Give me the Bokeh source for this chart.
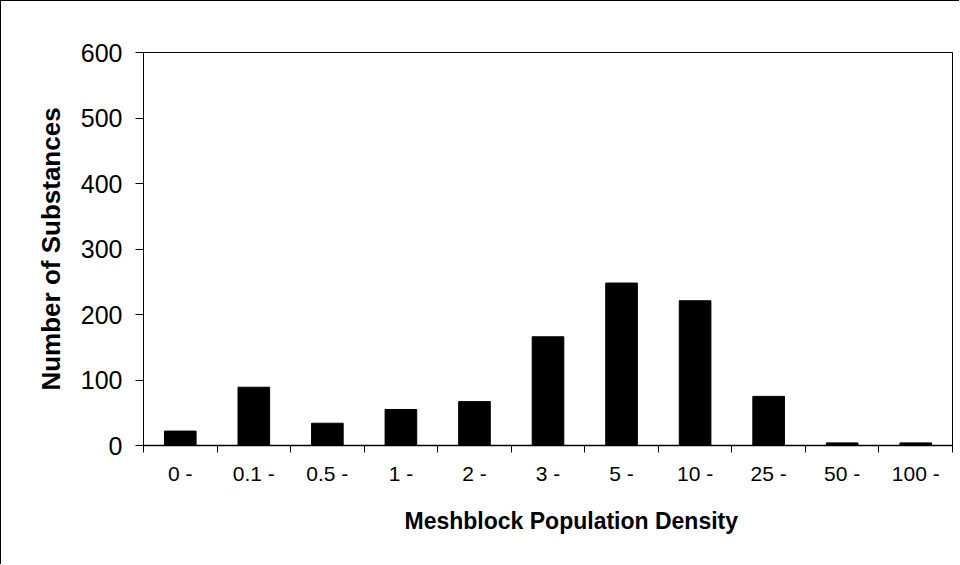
from bokeh.plotting import figure
from bokeh.models import FixedTicker, Range1d, Title
from bokeh.embed import file_html
from bokeh.resources import INLINE

categories = ["0 -", "0.1 -", "0.5 -", "1 -", "2 -", "3 -", "5 -", "10 -", "25 -", "50 -", "100 -"]
counts = [22, 89, 34, 55, 67, 166, 248, 221, 75, 4, 4]
y_ticks = [0, 100, 200, 300, 400, 500, 600]

x_pos = [i + 0.5 for i in range(len(categories))]
boundaries = list(range(len(categories) + 1))

FONT = "Liberation Sans"

p = figure(width=959, height=564, output_backend="svg", toolbar_location=None,
           x_range=Range1d(0, len(categories)), y_range=Range1d(0, 600),
           min_border_left=142, min_border_top=51, min_border_right=8, min_border_bottom=120)
p.styles = {"border-left": "1px solid black", "border-top": "1px solid black"}

p.vbar(x=x_pos, top=counts, width=0.43, fill_color="black", line_color="black")

p.xgrid.visible = False
p.ygrid.visible = False
p.outline_line_color = "black"
p.outline_line_width = 1
p.background_fill_color = "white"
p.border_fill_color = "white"

xa = p.xaxis[0]
xa.ticker = FixedTicker(ticks=x_pos, minor_ticks=boundaries)
xa.major_label_overrides = {x: c for x, c in zip(x_pos, categories)}
xa.major_tick_out = 0
xa.major_tick_in = 0
xa.minor_tick_out = 7
xa.minor_tick_in = 0
xa.minor_tick_line_color = "black"
xa.axis_line_color = "black"
xa.axis_line_width = 1.5
xa.major_label_text_font = FONT
xa.major_label_text_font_size = "21px"
xa.major_label_text_color = "black"
xa.major_label_standoff = 9

ya = p.yaxis[0]
ya.ticker = FixedTicker(ticks=y_ticks, minor_ticks=[])
ya.major_tick_out = 8
ya.major_tick_in = 0
ya.major_tick_line_color = "black"
ya.axis_line_color = "black"
ya.major_label_text_font = FONT
ya.major_label_text_font_size = "25px"
ya.major_label_text_color = "black"
ya.major_label_standoff = 13
ya.axis_label = "Number of Substances"
ya.axis_label_text_font = FONT
ya.axis_label_text_font_size = "26px"
ya.axis_label_text_font_style = "bold"
ya.axis_label_text_color = "black"
ya.axis_label_standoff = 12

xtitle = Title(text="Meshblock Population Density", align="left", offset=261,
               text_font=FONT, text_font_size="23px", text_font_style="bold",
               text_color="black", standoff=40, vertical_align="top")
p.add_layout(xtitle, "below")

open("out.html", "w").write(file_html(p, INLINE))
